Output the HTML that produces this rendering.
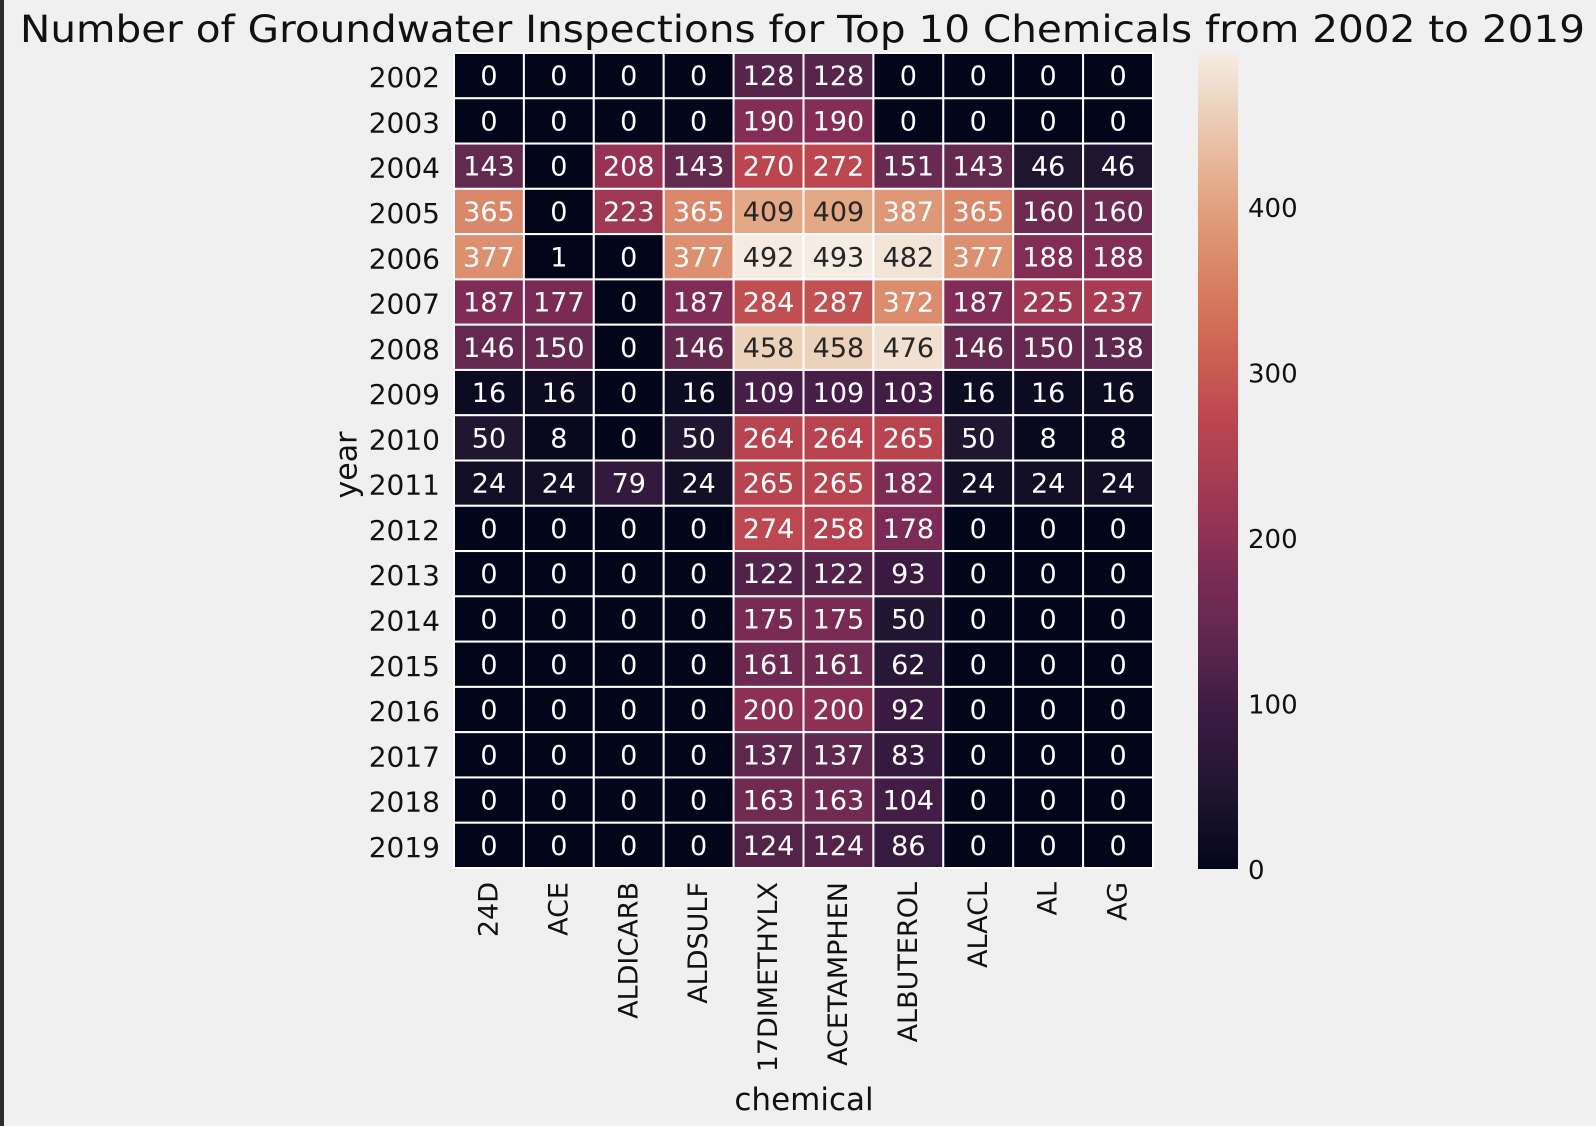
<!DOCTYPE html>
<html><head><meta charset="utf-8"><style>
html,body{margin:0;padding:0;background:#f0f0f0;}
svg{display:block;font-family:"DejaVu Sans","Liberation Sans",sans-serif;}
</style></head><body>
<svg id="chart" width="1596" height="1126" viewBox="0 0 1596 1126">
<defs>
<linearGradient id="cbgrad" x1="0" y1="1" x2="0" y2="0"></linearGradient>
</defs>
<rect x="0" y="0" width="1596" height="1126" fill="#f0f0f0"/>
<rect x="0" y="0" width="4" height="1126" fill="#2b2b2b"/>
<text x="20" y="42" font-size="37" fill="#111" textLength="1565" lengthAdjust="spacingAndGlyphs">Number of Groundwater Inspections for Top 10 Chemicals from 2002 to 2019</text>
<g id="cells"></g>
<g id="ylabels"></g>
<g id="xlabels"></g>
<text x="347" y="465" font-size="30" fill="#111" text-anchor="middle" dominant-baseline="central" transform="rotate(-90 347 465)">year</text>
<text x="804" y="1110" font-size="31" fill="#111" text-anchor="middle">chemical</text>
<rect id="cbar" x="1198" y="53" width="40" height="816" fill="url(#cbgrad)"/>
<g id="cbticks"></g>
</svg>
<script>
const years = ["2002","2003","2004","2005","2006","2007","2008","2009","2010","2011","2012","2013","2014","2015","2016","2017","2018","2019"];
const chemicals = ["24D","ACE","ALDICARB","ALDSULF","17DIMETHYLX","ACETAMPHEN","ALBUTEROL","ALACL","AL","AG"];
const values = [
[0,0,0,0,128,128,0,0,0,0],
[0,0,0,0,190,190,0,0,0,0],
[143,0,208,143,270,272,151,143,46,46],
[365,0,223,365,409,409,387,365,160,160],
[377,1,0,377,492,493,482,377,188,188],
[187,177,0,187,284,287,372,187,225,237],
[146,150,0,146,458,458,476,146,150,138],
[16,16,0,16,109,109,103,16,16,16],
[50,8,0,50,264,264,265,50,8,8],
[24,24,79,24,265,265,182,24,24,24],
[0,0,0,0,274,258,178,0,0,0],
[0,0,0,0,122,122,93,0,0,0],
[0,0,0,0,175,175,50,0,0,0],
[0,0,0,0,161,161,62,0,0,0],
[0,0,0,0,200,200,92,0,0,0],
[0,0,0,0,137,137,83,0,0,0],
[0,0,0,0,163,163,104,0,0,0],
[0,0,0,0,124,124,86,0,0,0]
];
const cbarTicks = [0,100,200,300,400];
const vmin = 0, vmax = 493;

const NS = "http://www.w3.org/2000/svg";
const plot = {x0:454, x1:1153, y0:53, y1:868};
const cw = (plot.x1-plot.x0)/chemicals.length;
const ch = (plot.y1-plot.y0)/years.length;
function xScale(i){ return plot.x0 + i*cw; }
function yScale(j){ return plot.y0 + j*ch; }
const cb = {y0:53, y1:869};
function cbScale(v){ return cb.y1 - (v-vmin)/(vmax-vmin)*(cb.y1-cb.y0); }

const stops = [
[0.0,[3,5,26]],[0.09,[30,21,48]],[0.2,[62,27,68]],[0.29,[99,41,79]],[0.38,[129,44,86]],
[0.42,[149,51,84]],[0.55,[188,70,80]],[0.65,[208,104,84]],[0.75,[219,139,107]],
[0.83,[227,168,134]],[0.93,[237,210,188]],[1.0,[245,236,228]]
];
function cmap(t){
  t=Math.max(0,Math.min(1,t));
  for(let k=1;k<stops.length;k++){
    if(t<=stops[k][0]){
      const a=stops[k-1],b=stops[k],f=(t-a[0])/(b[0]-a[0]);
      return a[1].map((c,i)=>Math.round(c+(b[1][i]-c)*f));
    }
  }
  return stops[stops.length-1][1];
}
function lum(c){
  const l=c.map(v=>{v/=255;return v<=0.03928?v/12.92:Math.pow((v+0.055)/1.055,2.4);});
  return 0.2126*l[0]+0.7152*l[1]+0.0722*l[2];
}

const gradEl=document.getElementById('cbgrad');
for(let k=0;k<=20;k++){
  const t=k/20,c=cmap(t);
  const s=document.createElementNS(NS,'stop');
  s.setAttribute('offset',t);
  s.setAttribute('stop-color','rgb('+c.join(',')+')');
  gradEl.appendChild(s);
}

const cells=document.getElementById('cells');
values.forEach((row,j)=>{
  row.forEach((v,i)=>{
    const c=cmap((v-vmin)/(vmax-vmin));
    const r=document.createElementNS(NS,'rect');
    r.setAttribute('x',xScale(i)); r.setAttribute('y',yScale(j));
    r.setAttribute('width',cw); r.setAttribute('height',ch);
    r.setAttribute('fill','rgb('+c.join(',')+')');
    r.setAttribute('stroke','#ffffff'); r.setAttribute('stroke-width','2');
    
    
    cells.appendChild(r);
    const t=document.createElementNS(NS,'text');
    t.setAttribute('x',xScale(i)+cw/2); t.setAttribute('y',yScale(j)+ch/2+1);
    t.setAttribute('text-anchor','middle'); t.setAttribute('dominant-baseline','central');
    t.setAttribute('font-size','27');
    t.setAttribute('fill',lum(c)>0.408?'#262626':'#ffffff');
    t.textContent=v;
    
    
    cells.appendChild(t);
  });
});

const yl=document.getElementById('ylabels');
years.forEach((y,j)=>{
  const t=document.createElementNS(NS,'text');
  t.setAttribute('x',440); t.setAttribute('y',yScale(j)+ch/2+2);
  t.setAttribute('text-anchor','end'); t.setAttribute('dominant-baseline','central');
  t.setAttribute('font-size','28'); t.setAttribute('fill','#111');
  t.textContent=y;
  
  
  yl.appendChild(t);
});

const xl=document.getElementById('xlabels');
chemicals.forEach((c,i)=>{
  const cx=xScale(i)+cw/2, ty=882;
  const t=document.createElementNS(NS,'text');
  t.setAttribute('x',cx); t.setAttribute('y',ty);
  t.setAttribute('text-anchor','end'); t.setAttribute('dominant-baseline','central');
  t.setAttribute('font-size','27'); t.setAttribute('fill','#111');
  t.setAttribute('transform','rotate(-90 '+cx+' '+ty+')');
  t.textContent=c;
  
  
  xl.appendChild(t);
});

const cbt=document.getElementById('cbticks');
cbarTicks.forEach(v=>{
  const t=document.createElementNS(NS,'text');
  t.setAttribute('x',1248); t.setAttribute('y',cbScale(v)+2);
  t.setAttribute('dominant-baseline','central');
  t.setAttribute('font-size','26'); t.setAttribute('fill','#111');
  t.textContent=v;
  
  
  cbt.appendChild(t);
});
</script>
</body></html>
